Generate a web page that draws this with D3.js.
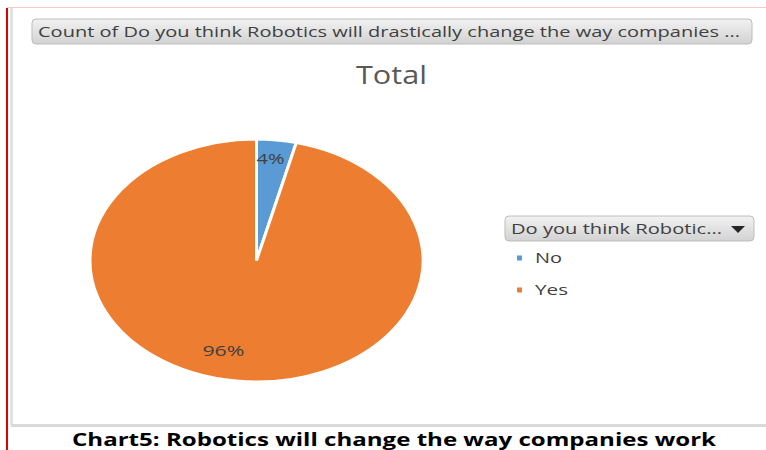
<!DOCTYPE html>
<html>
<head>
  <meta charset='utf-8'>
  <style>
  body { margin: 0; background: #fff; }
  text { font-family: 'Open Sans', 'DejaVu Sans', sans-serif; }
  </style>
</head>
<body>
<script src='https://d3js.org/d3.v7.min.js'></script>
<script>

var categories = ['No', 'Yes'];
var counts = [1, 25];
var colors = ['#5B9BD5', '#ED7D31'];

var fieldButton = 'Count of Do you think Robotics will drastically change the way companies ...';
var legendButton = 'Do you think Robotic...';
var chartTitle = 'Total';
var caption = 'Chart5: Robotics will change the way companies work';

var W = 766, H = 450;

var svg = d3.select('body').append('svg')
    .attr('width', W)
    .attr('height', H);

var defs = svg.append('defs');
var grad = defs.append('linearGradient')
    .attr('id', 'btn')
    .attr('x1', 0).attr('y1', 0).attr('x2', 0).attr('y2', 1);
grad.append('stop').attr('offset', '0%').attr('stop-color', '#f2f2f2');
grad.append('stop').attr('offset', '100%').attr('stop-color', '#d2d2d2');

// frame lines from the screenshot
svg.append('line').attr('x1', 7).attr('x2', W).attr('y1', 7.5).attr('y2', 7.5)
    .attr('stroke', '#ffc8c8').attr('stroke-width', 1);
svg.append('line').attr('x1', 11.5).attr('x2', 11.5).attr('y1', 8).attr('y2', 425)
    .attr('stroke', '#dcdcdc').attr('stroke-width', 2.5);
svg.append('line').attr('x1', 11).attr('x2', W).attr('y1', 425.5).attr('y2', 425.5)
    .attr('stroke', '#d9d9d9').attr('stroke-width', 3);
svg.append('line').attr('x1', 7).attr('x2', 7).attr('y1', 8).attr('y2', H)
    .attr('stroke', '#e00000').attr('stroke-width', 2);

// field button
svg.append('rect')
    .attr('x', 32).attr('y', 19).attr('width', 720).attr('height', 25)
    .attr('rx', 4).attr('fill', 'url(#btn)').attr('stroke', '#bdbdbd');
svg.append('text')
    .attr('x', 38).attr('y', 37)
    .attr('font-size', 14).attr('fill', '#404040')
    .attr('textLength', 702).attr('lengthAdjust', 'spacingAndGlyphs')
    .text(fieldButton);

// title
svg.append('text')
    .attr('x', 356).attr('y', 84)
    .attr('font-size', 25).attr('fill', '#595959')
    .attr('textLength', 71).attr('lengthAdjust', 'spacingAndGlyphs')
    .text(chartTitle);

// pie (stretched horizontally like the source image)
var cx = 256.5, cy = 260.5, R = 121.5, sx = 166.5 / 121.5;
var total = d3.sum(counts);
var data = categories.map(function(c, i) { return {name: c, value: counts[i], color: colors[i]}; });

var pie = d3.pie().sort(null).value(function(d) { return d.value; });
var arc = d3.arc().innerRadius(0).outerRadius(R);
var arcs = pie(data);

var g = svg.append('g')
    .attr('transform', 'translate(' + cx + ',' + cy + ') scale(' + sx + ',1)');

g.selectAll('path')
    .data(arcs)
  .enter().append('path')
    .attr('d', arc)
    .attr('fill', function(d) { return d.data.color; })
    .attr('stroke', '#fff')
    .attr('stroke-width', 3)
    .attr('vector-effect', 'non-scaling-stroke');

// data labels
var labelPos = {No: {r: 0.84, shift: -0.02, w: 28}, Yes: {r: 0.77, shift: 0.14, w: 42}};
svg.selectAll('.lbl')
    .data(arcs)
  .enter().append('text')
    .attr('class', 'lbl')
    .attr('font-size', 14).attr('fill', '#404040')
    .attr('text-anchor', 'middle')
    .attr('lengthAdjust', 'spacingAndGlyphs')
    .attr('textLength', function(d) { return labelPos[d.data.name].w; })
    .attr('x', function(d) {
      var p = labelPos[d.data.name];
      var a = (d.startAngle + d.endAngle) / 2 + p.shift;
      return cx + Math.sin(a) * R * p.r * sx;
    })
    .attr('y', function(d) {
      var p = labelPos[d.data.name];
      var a = (d.startAngle + d.endAngle) / 2 + p.shift;
      return cy - Math.cos(a) * R * p.r + 5;
    })
    .text(function(d) { return Math.round(d.value / total * 100) + '%'; });

// legend button
svg.append('rect')
    .attr('x', 505).attr('y', 216).attr('width', 249).attr('height', 25)
    .attr('rx', 4).attr('fill', 'url(#btn)').attr('stroke', '#bdbdbd');
svg.append('text')
    .attr('x', 511).attr('y', 234)
    .attr('font-size', 14).attr('fill', '#404040')
    .attr('textLength', 211).attr('lengthAdjust', 'spacingAndGlyphs')
    .text(legendButton);
svg.append('path')
    .attr('d', 'M731,226 L745,226 L738,233 Z')
    .attr('fill', '#262626');

var legendY = d3.scalePoint().domain(categories).range([258, 290]);
var legendW = {No: 27, Yes: 33};

var items = svg.selectAll('.leg')
    .data(data)
  .enter().append('g')
    .attr('class', 'leg')
    .attr('transform', function(d) { return 'translate(0,' + legendY(d.name) + ')'; });
items.append('rect')
    .attr('x', 517).attr('y', -2.5).attr('width', 5).attr('height', 5)
    .attr('fill', function(d) { return d.color; });
items.append('text')
    .attr('x', 535).attr('y', 5)
    .attr('font-size', 14).attr('fill', '#404040')
    .attr('textLength', function(d) { return legendW[d.name]; })
    .attr('lengthAdjust', 'spacingAndGlyphs')
    .text(function(d) { return d.name; });

// caption
svg.append('text')
    .attr('x', 72).attr('y', 446)
    .attr('font-size', 17).attr('font-weight', 'bold').attr('fill', '#000')
    .attr('font-family', "Carlito, 'Liberation Sans', sans-serif")
    .attr('textLength', 644).attr('lengthAdjust', 'spacingAndGlyphs')
    .text(caption);

</script>
</body>
</html>
